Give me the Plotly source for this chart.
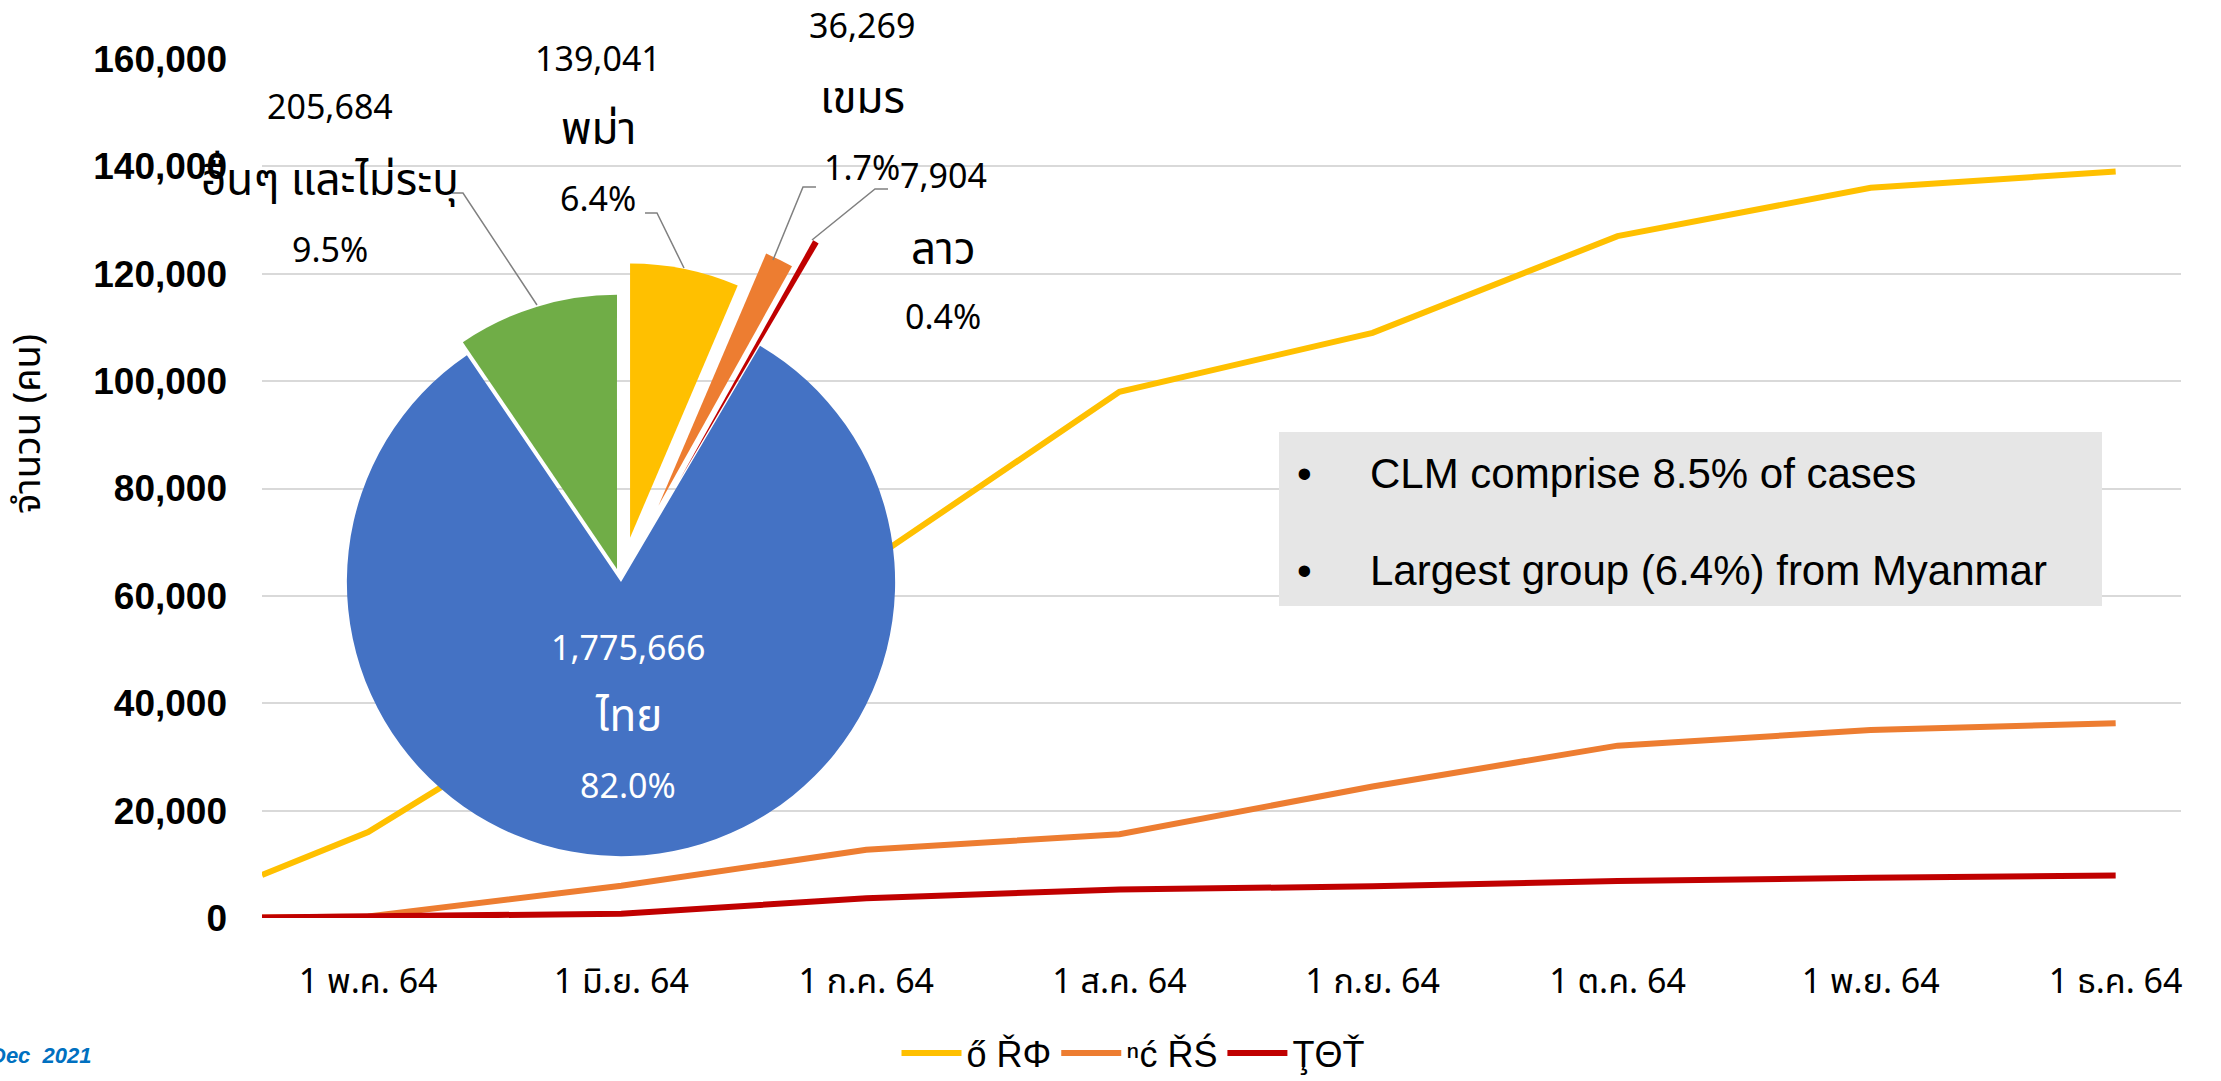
import plotly.graph_objects as go

# cumulative cases by nationality (line chart)
dates = ["2021-04-18", "2021-05-01", "2021-06-01", "2021-07-01", "2021-08-01",
         "2021-09-01", "2021-10-01", "2021-11-01", "2021-12-01"]
myanmar = [8000, 16000, 45000, 66000, 98000, 109000, 127000, 136000, 139041]
khmer = [100, 300, 6000, 12700, 15600, 24500, 32100, 35000, 36269]
lao = [100, 250, 800, 3700, 5300, 5900, 6900, 7500, 7904]

# legend names as they show up on the slide (garbled font encoding)
series_names = ["ő ŘΦ", "ⁿć ŘŚ", "ŢΘŤ"]

tick_dates = ["2021-05-01", "2021-06-01", "2021-07-01", "2021-08-01",
              "2021-09-01", "2021-10-01", "2021-11-01", "2021-12-01"]
tick_labels = ["1 พ.ค. 64", "1 มิ.ย. 64", "1 ก.ค. 64", "1 ส.ค. 64",
               "1 ก.ย. 64", "1 ต.ค. 64", "1 พ.ย. 64", "1 ธ.ค. 64"]

# pie inset: share of all cases
pie_labels = ["พม่า", "เขมร", "ลาว", "ไทย", "อื่นๆ และไม่ระบุ"]
pie_values = [139041, 36269, 7904, 1775666, 205684]

W, H = 2221, 1081
THAI = "Tahoma, 'Leelawadee UI', 'Noto Sans Thai', 'Noto Sans', sans-serif"
ARIAL = "Arial, 'Liberation Sans', sans-serif"


def px(x, y):
    # pixel position -> paper fraction (margins are zero)
    return x / W, 1 - y / H


fig = go.Figure()

line_colors = ["#FFC000", "#ED7D31", "#C00000"]
for name, vals, col in zip(series_names, [myanmar, khmer, lao], line_colors):
    fig.add_trace(go.Scatter(
        x=dates, y=vals, name=name, mode="lines",
        line=dict(color=col, width=6),
    ))

# pie inset
x0, y1 = px(229, 190)
x1, y0 = px(1013, 974)
fig.add_trace(go.Pie(
    labels=pie_labels, values=pie_values,
    marker=dict(colors=["#FFC000", "#ED7D31", "#C00000", "#4472C4", "#70AD47"],
                line=dict(width=0)),
    pull=[0.165, 0.31, 0.43, 0, 0.05],
    sort=False, direction="clockwise", rotation=0,
    textinfo="none", hoverinfo="label+value+percent",
    domain=dict(x=[x0, x1], y=[y0, y1]),
    showlegend=False,
))

# pie labels: value / name / percent, positioned like the slide
total = sum(pie_values)
label_pos = {
    "พม่า": (598, [60, 130, 200], "black"),
    "เขมร": (862, [27, 100, 170], "black"),
    "ลาว": (943, [177, 250, 318], "black"),
    "ไทย": (628, [649, 718, 788], "white"),
    "อื่นๆ และไม่ระบุ": (330, [108, 182, 252], "black"),
}
annotations = []
for lab, val in zip(pie_labels, pie_values):
    lx, ys, col = label_pos[lab]
    lines = [(f"{val:,}", 34), (lab, 44), (f"{val / total:.1%}", 34)]
    for (txt, fs), ly in zip(lines, ys):
        ax_, ay_ = px(lx, ly)
        annotations.append(dict(
            x=ax_, y=ay_, xref="paper", yref="paper", text=txt, showarrow=False,
            xanchor="center", yanchor="middle",
            font=dict(family=THAI, size=fs, color=col),
        ))

# leader lines
leaders = [
    [(452, 193), (463, 193), (537, 305)],
    [(645, 213), (657, 213), (684, 268)],
    [(816, 187), (803, 187), (773, 260)],
    [(888, 189), (875, 189), (812, 240)],
]
shapes = []
for pts in leaders:
    path = ""
    for i, (a, b) in enumerate(pts):
        xa, ya = px(a, b)
        path += ("M" if i == 0 else " L") + f"{xa:.5f},{ya:.5f}"
    shapes.append(dict(type="path", path=path, xref="paper", yref="paper",
                       line=dict(color="#808080", width=1.5)))

# text box
bx0, by1 = px(1279, 432)
bx1, by0 = px(2102, 606)
shapes.append(dict(type="rect", x0=bx0, x1=bx1, y0=by0, y1=by1, xref="paper", yref="paper",
                   fillcolor="#E6E6E6", line=dict(width=0), layer="above"))
for txt, ly in [("CLM comprise 8.5% of cases", 473), ("Largest group (6.4%) from Myanmar", 570)]:
    bxa, bya = px(1305, ly)
    annotations.append(dict(x=bxa, y=bya, xref="paper", yref="paper", text="•",
                            showarrow=False, xanchor="center", yanchor="middle",
                            font=dict(family=ARIAL, size=42, color="black")))
    txa, tya = px(1368, ly)
    annotations.append(dict(x=txa, y=tya, xref="paper", yref="paper", text=txt,
                            showarrow=False, xanchor="left", yanchor="middle",
                            font=dict(family=ARIAL, size=42, color="black")))

# y axis title
tx, ty = px(28, 424)
annotations.append(dict(x=tx, y=ty, xref="paper", yref="paper", text="จำนวน (คน)",
                        textangle=-90, showarrow=False, xanchor="center", yanchor="middle",
                        font=dict(family=THAI, size=38, color="black")))

# footer (cut by the left edge on the slide too)
fx, fy = px(94, 1055)
annotations.append(dict(x=fx, y=fy, xref="paper", yref="paper", text="Dec  2021",
                        showarrow=False, xanchor="right", yanchor="middle",
                        font=dict(family=ARIAL, size=22, color="#0070C0",
                                  weight="bold", style="italic")))

xd0, _ = px(262, 0)
xd1, _ = px(2181, 0)
_, yd0 = px(0, 918)
_, yd1 = px(0, 59)
lgx, lgy = px(1133, 1053)

fig.update_layout(
    width=W, height=H,
    margin=dict(l=0, r=0, t=0, b=0, autoexpand=False),
    paper_bgcolor="white", plot_bgcolor="white",
    xaxis=dict(
        domain=[xd0, xd1], type="date", automargin=False,
        range=["2021-04-18", "2021-12-09"],
        tickvals=tick_dates, ticktext=tick_labels,
        showgrid=False, showline=False, zeroline=False, ticks="",
        ticklabelstandoff=40,
        tickfont=dict(family=THAI, size=34, color="black"),
    ),
    yaxis=dict(
        domain=[yd0, yd1], range=[0, 160000], dtick=20000, tickformat=",",
        automargin=False,
        showgrid=True, gridcolor="#D9D9D9", gridwidth=2,
        zeroline=False, showline=False, ticks="",
        ticklabelstandoff=34,
        tickfont=dict(family=ARIAL, size=37, color="black", weight="bold"),
    ),
    legend=dict(
        orientation="h", x=lgx, y=lgy, xanchor="center", yanchor="middle",
        font=dict(family=ARIAL, size=36, color="black"),
        bgcolor="rgba(0,0,0,0)", itemwidth=60,
    ),
    annotations=annotations,
    shapes=shapes,
)

# drop the page's default body margin so the figure sits at the window's corner
fig.write_html("out.html", config={"displayModeBar": False},
               post_script="document.body.style.margin='0';")
